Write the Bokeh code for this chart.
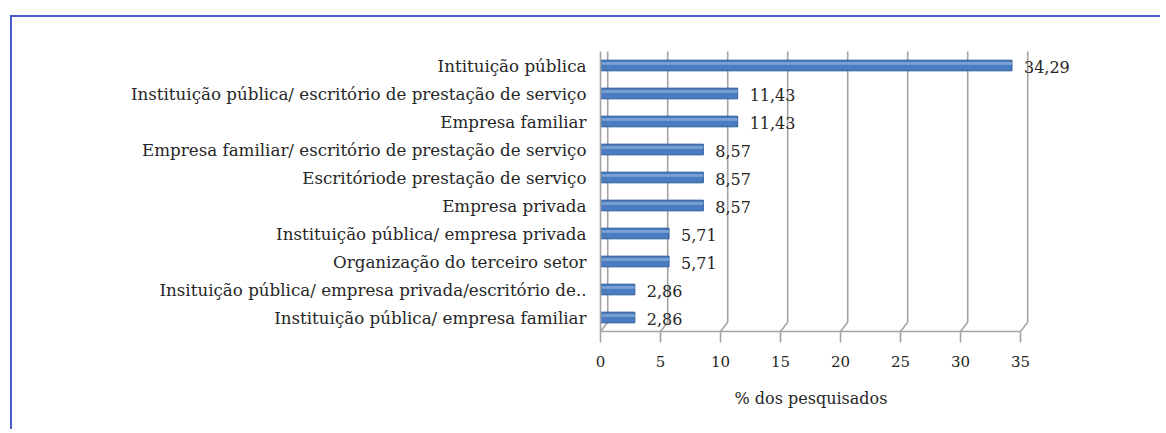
from bokeh.plotting import figure
from bokeh.models import FactorRange, Range1d, FixedTicker, ColumnDataSource, LabelSet, Title
from bokeh.core.properties import value
from bokeh.transform import dodge
from bokeh.embed import file_html
from bokeh.resources import INLINE

categories = [
    "Intituição pública",
    "Instituição pública/ escritório de prestação de serviço",
    "Empresa familiar",
    "Empresa familiar/ escritório de prestação de serviço",
    "Escritóriode prestação de serviço",
    "Empresa privada",
    "Instituição pública/ empresa privada",
    "Organização do terceiro setor",
    "Insituição pública/ empresa privada/escritório de..",
    "Instituição pública/ empresa familiar",
]
values = [34.29, 11.43, 11.43, 8.57, 8.57, 8.57, 5.71, 5.71, 2.86, 2.86]
x_ticks = [0, 5, 10, 15, 20, 25, 30, 35]
x_label = "% dos pesquisados"

value_labels = [f"{v:.2f}".replace(".", ",") for v in values]
src = ColumnDataSource(dict(cat=categories, val=values, lab=value_labels))

FONT = "DejaVu Serif"
TXT = "#262626"
GRID = "#a3a3a3"
DEPTH_X = 0.6    # 3-D depth of the back wall (x data units)
DEPTH_Y = 0.33   # 3-D depth of the floor (category units)
n = len(categories)

p = figure(width=1150, height=414, output_backend="svg", toolbar_location=None,
           x_range=Range1d(0, 39.5),
           y_range=FactorRange(factors=list(reversed(categories)), range_padding=0),
           min_border_left=588, min_border_right=88, min_border_top=34, min_border_bottom=100)
p.styles = {"border-left": "2px solid #4a5ccc", "border-top": "2px solid #4a5ccc",
            "margin-left": "10px", "margin-top": "15px"}
p.outline_line_color = None
p.background_fill_color = "white"
p.border_fill_color = "white"

# 3-D style back-wall gridlines with a bend down to the floor edge
p.segment(x0=[t + DEPTH_X for t in x_ticks], x1=[t + DEPTH_X for t in x_ticks],
          y0=[DEPTH_Y] * len(x_ticks), y1=[n + 1] * len(x_ticks),
          line_color=GRID, line_width=1.6)
p.segment(x0=x_ticks, x1=[t + DEPTH_X for t in x_ticks],
          y0=[0] * len(x_ticks), y1=[DEPTH_Y] * len(x_ticks),
          line_color=GRID, line_width=1.6)

# cylinder-like bars
p.hbar(y="cat", right="val", left=0, height=0.38, source=src,
       fill_color="#4a7cc0", line_color="#2c5a98", line_width=1)
p.hbar(y=dodge("cat", 0.07, range=p.y_range), right="val", left=0.1, height=0.09, source=src,
       fill_color="#7ea4d8", line_color=None)

labels = LabelSet(x="val", y="cat", text="lab", source=src, x_offset=12, y_offset=-1,
                  text_baseline="middle", text_font=value(FONT), text_font_size=value("16px"),
                  text_color=TXT)
p.add_layout(labels)

# x axis
p.xaxis.ticker = FixedTicker(ticks=x_ticks)
p.xaxis.bounds = (0, 35)
p.xaxis.axis_line_color = GRID
p.xaxis.axis_line_width = 1.6
p.xaxis.major_tick_line_color = GRID
p.xaxis.major_tick_line_width = 1.6
p.xaxis.major_tick_out = 11
p.xaxis.major_tick_in = 0
p.xaxis.minor_tick_line_color = None
p.xaxis.major_label_text_font = FONT
p.xaxis.major_label_text_font_size = "15px"
p.xaxis.major_label_text_color = TXT
p.xaxis.major_label_standoff = 13

# axis title, centred under the 0-35 scale
p.add_layout(Title(text=x_label, align="left", offset=134, standoff=34,
                   text_font=FONT, text_font_size="16px", text_font_style="normal",
                   text_color=TXT), "below")

# y axis (category labels)
p.yaxis.axis_line_color = GRID
p.yaxis.axis_line_width = 1.6
p.yaxis.major_tick_line_color = None
p.yaxis.minor_tick_line_color = None
p.yaxis.major_label_text_font = FONT
p.yaxis.major_label_text_font_size = "16.7px"
p.yaxis.major_label_text_color = TXT
p.yaxis.major_label_standoff = 8

p.xgrid.grid_line_color = None
p.ygrid.grid_line_color = None

open("out.html", "w").write(file_html(p, INLINE))
